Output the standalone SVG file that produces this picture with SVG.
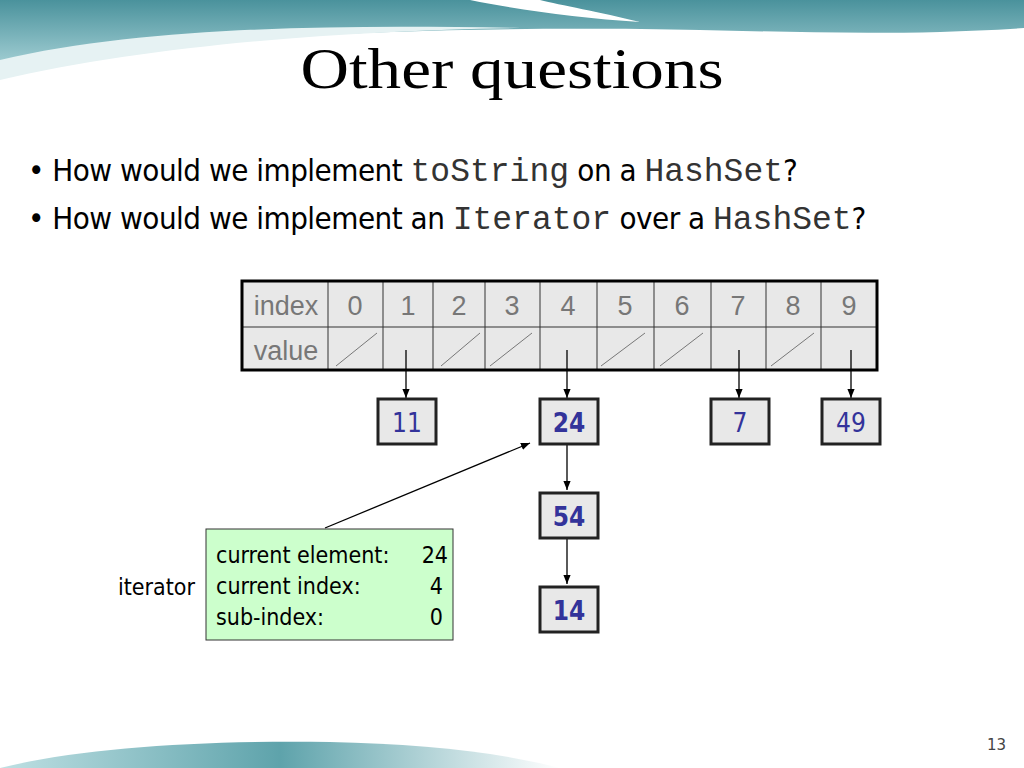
<svg xmlns="http://www.w3.org/2000/svg" width="1024" height="768" viewBox="0 0 1024 768">
<defs>
<linearGradient id="tg" x1="0" y1="0" x2="0" y2="1"><stop offset="0" stop-color="#4a929c"/><stop offset="1" stop-color="#a9d3d8"/></linearGradient>
<linearGradient id="bg" x1="0" y1="0" x2="1" y2="0"><stop offset="0" stop-color="#bfe0e3"/><stop offset="0.5" stop-color="#5ea3ab"/><stop offset="1" stop-color="#ffffff"/></linearGradient>
<marker id="ah" viewBox="0 0 10 10" refX="10" refY="5" markerWidth="7" markerHeight="7" orient="auto"><path d="M0,1 L10,5 L0,9 z" fill="#000"/></marker>
</defs>
<style>
.cell{fill:#e8e8e8;stroke:#333;stroke-width:1}
.gl{font-family:"Liberation Sans",Arial,sans-serif;font-size:27px;fill:#777;text-anchor:middle}
.nb{fill:#e8e8e8;stroke:#222;stroke-width:3}
.nt{font-family:"DejaVu Sans Condensed","DejaVu Sans",sans-serif;font-size:26px;fill:#33339a;text-anchor:middle}
.ln{stroke:#000;stroke-width:1.3;fill:none;marker-end:url(#ah)}
.sl{stroke:#777;stroke-width:1}
.bt{font-family:"DejaVu Sans Condensed","DejaVu Sans",sans-serif;font-size:31px;fill:#000;letter-spacing:-0.5px}
.mono{font-family:"Liberation Mono","Courier New",monospace;font-size:33px;fill:#333;letter-spacing:0}
.it{font-family:"DejaVu Sans Condensed","DejaVu Sans",sans-serif;font-size:23px;fill:#000}
</style>
<rect width="1024" height="768" fill="#fff"/>
<path d="M0,0 H1024 V28 C900,36 800,32 700,30 C500,26 200,30 0,70 Z" fill="url(#tg)"/>
<path d="M0,60 C150,25 350,25 520,28 C350,30 150,45 0,80 Z" fill="#e6f2f3"/>
<path d="M470,0 C520,10 580,18 640,22 C600,12 560,5 540,0 Z" fill="#fff"/>
<path d="M0,768 C80,748 200,740 330,742 C420,744 500,752 560,768 Z" fill="url(#bg)"/>
<text x="512" y="88" font-family="'Liberation Serif','DejaVu Serif',serif" font-size="56" text-anchor="middle" fill="#000" textLength="423" lengthAdjust="spacingAndGlyphs">Other questions</text>
<text x="28" y="181" class="bt">• How would we implement <tspan class="mono">toString</tspan> on a <tspan class="mono">HashSet</tspan>?</text>
<text x="28" y="229" class="bt">• How would we implement an <tspan class="mono">Iterator</tspan> over a <tspan class="mono">HashSet</tspan>?</text>
<g id="table">
<rect x="242" y="281" width="635" height="89" class="cell"/>
<line x1="242" y1="327" x2="877" y2="327" stroke="#333"/>
<g stroke="#333">
<line x1="328" y1="281" x2="328" y2="370"/><line x1="383" y1="281" x2="383" y2="370"/><line x1="433" y1="281" x2="433" y2="370"/><line x1="485" y1="281" x2="485" y2="370"/><line x1="540" y1="281" x2="540" y2="370"/><line x1="597" y1="281" x2="597" y2="370"/><line x1="654" y1="281" x2="654" y2="370"/><line x1="711" y1="281" x2="711" y2="370"/><line x1="766" y1="281" x2="766" y2="370"/><line x1="821" y1="281" x2="821" y2="370"/>
</g>
<rect x="242" y="281" width="635" height="89" fill="none" stroke="#000" stroke-width="3"/>
<text x="286" y="315" class="gl">index</text><text x="286" y="360" class="gl">value</text>
<text x="355" y="315" class="gl">0</text><text x="408" y="315" class="gl">1</text><text x="459" y="315" class="gl">2</text><text x="512" y="315" class="gl">3</text><text x="568" y="315" class="gl">4</text><text x="625" y="315" class="gl">5</text><text x="682" y="315" class="gl">6</text><text x="738" y="315" class="gl">7</text><text x="793" y="315" class="gl">8</text><text x="849" y="315" class="gl">9</text>
<g class="sl"><line x1="336" y1="366" x2="377" y2="333"/><line x1="441" y1="366" x2="480" y2="333"/><line x1="490" y1="366" x2="532" y2="333"/><line x1="601" y1="366" x2="645" y2="333"/><line x1="660" y1="366" x2="703" y2="333"/><line x1="771" y1="366" x2="814" y2="333"/></g>
</g>
<g id="connectors">
<line x1="406" y1="350" x2="406" y2="398" class="ln"/>
<line x1="567" y1="350" x2="567" y2="398" class="ln"/>
<line x1="739" y1="350" x2="739" y2="398" class="ln"/>
<line x1="851" y1="350" x2="851" y2="398" class="ln"/>
<line x1="567" y1="445" x2="567" y2="490" class="ln"/>
<line x1="567" y1="539" x2="567" y2="584" class="ln"/>
<line x1="325" y1="528" x2="530" y2="443" class="ln"/>
</g>
<g id="n11"><rect x="378" y="399" width="58" height="45" class="nb"/><text x="407" y="432" class="nt">11</text></g>
<g id="n24"><rect x="540" y="399" width="58" height="45" class="nb"/><text x="569" y="432" class="nt" font-weight="bold">24</text></g>
<g id="n7"><rect x="711" y="399" width="58" height="45" class="nb"/><text x="740" y="432" class="nt">7</text></g>
<g id="n49"><rect x="822" y="399" width="58" height="45" class="nb"/><text x="851" y="432" class="nt">49</text></g>
<g id="n54"><rect x="540" y="493" width="58" height="45" class="nb"/><text x="569" y="526" class="nt" font-weight="bold">54</text></g>
<g id="n14"><rect x="540" y="587" width="58" height="45" class="nb"/><text x="569" y="620" class="nt" font-weight="bold">14</text></g>
<g id="iterator">
<rect x="206" y="529" width="247" height="111" fill="#ccffcc" stroke="#333"/>
<text x="195" y="595" class="it" text-anchor="end">iterator</text>
<text x="216" y="563" class="it">current element:</text><text x="448" y="563" class="it" text-anchor="end">24</text>
<text x="216" y="594" class="it">current index:</text><text x="443" y="594" class="it" text-anchor="end">4</text>
<text x="216" y="625" class="it">sub-index:</text><text x="443" y="625" class="it" text-anchor="end">0</text>
</g>
<text x="1006" y="750" font-family="'DejaVu Sans',sans-serif" font-size="15" fill="#444" text-anchor="end">13</text>
</svg>
